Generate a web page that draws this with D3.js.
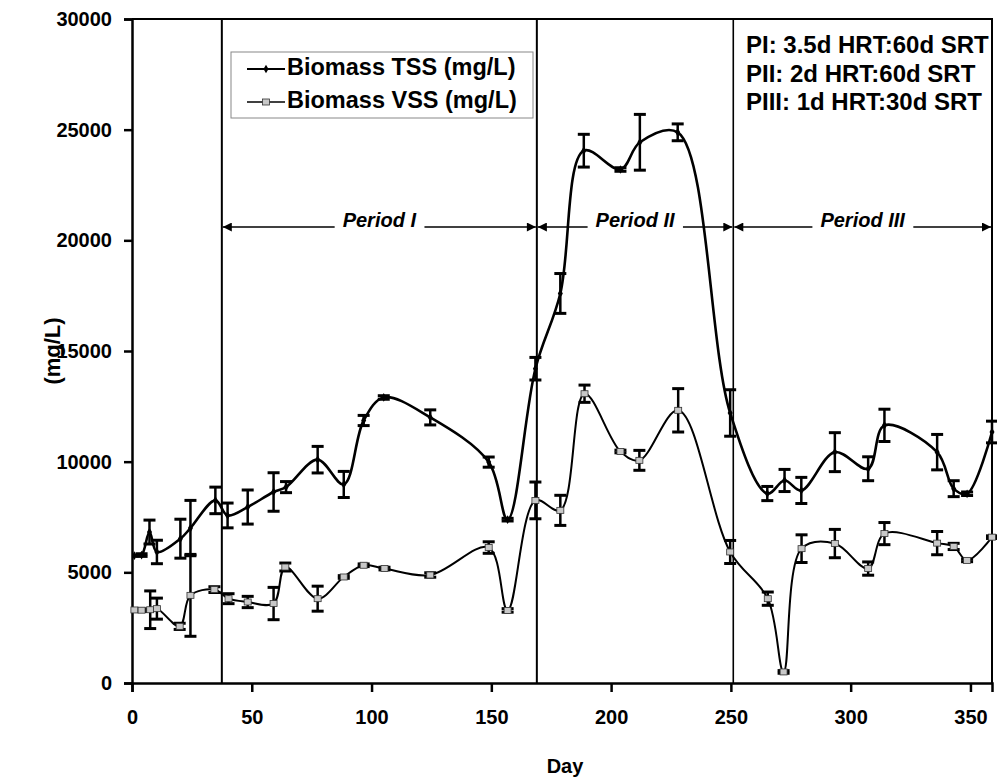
<!DOCTYPE html>
<html>
<head>
<meta charset="utf-8">
<script src="https://cdn.jsdelivr.net/npm/d3@7"></script>
<style>
  body { margin: 0; background: #fff; }
  svg { display: block; font-family: "Liberation Sans", Arial, sans-serif; }
</style>
</head>
<body>
<svg></svg>
<script>
// Data
const tssDay = [1, 4, 7.3, 10.4, 20.2, 24.4, 34.8, 39.9, 48.3, 59.1, 64.3, 77.5, 88.4, 96.7, 105.1, 124.5, 148.9, 156.8,
  168.4, 178.8, 188.6, 203.9, 212, 227.8, 249.7, 265.2, 272.4, 279.4, 293.4, 307.3, 314.1, 336.1, 343, 348.6, 359];
const tssVal = [5750, 5780, 6820, 5920, 6520, 7000, 8250, 7570, 7950, 8630, 8850, 10090, 8970, 11860, 12900, 12000, 9980, 7380,
  14200, 17600, 24050, 23200, 24430, 24880, 12200, 8560, 9150, 8700, 10430, 9680, 11640, 10430, 8780, 8550, 11340];
const tssErr = [0, 60, 540, 530, 880, 1250, 600, 560, 770, 870, 250, 600, 590, 230, 80, 340, 230, 60,
  510, 900, 740, 80, 1260, 380, 1050, 320, 500, 590, 880, 540, 730, 800, 360, 80, 490];

const vssDay = [1, 4, 7.6, 10.4, 19.9, 24.4, 34.4, 40.3, 48.3, 59.1, 64, 77.5, 88.4, 96.7, 105.4, 124.5, 148.9, 156.8,
  168.4, 178.8, 188.9, 203.9, 211.8, 228, 249.7, 265.4, 272, 279.5, 293.4, 307.3, 314.1, 336.1, 343, 348.6, 359];
const vssVal = [3300, 3290, 3310, 3360, 2560, 3960, 4220, 3810, 3660, 3590, 5240, 3810, 4790, 5320, 5170, 4880, 6120, 3280,
  8250, 7800, 13070, 10460, 10060, 12320, 5920, 3810, 500, 6070, 6300, 5170, 6750, 6320, 6170, 5540, 6590];
const vssErr = [0, 60, 850, 475, 140, 1850, 130, 225, 255, 730, 180, 565, 60, 60, 60, 100, 260, 80,
  830, 680, 390, 60, 450, 980, 520, 300, 60, 625, 640, 300, 500, 525, 140, 60, 60];

const xTicks = [0, 50, 100, 150, 200, 250, 300, 350];
const yTicks = [0, 5000, 10000, 15000, 20000, 25000, 30000];
const periodStart = [37.5, 169, 251];
const periodEnd = [169, 251, 359];
const periodNames = ["Period I", "Period II", "Period III"];
const seriesNames = ["Biomass TSS (mg/L)", "Biomass VSS (mg/L)"];
const noteLines = ["PI: 3.5d HRT:60d SRT", "PII: 2d HRT:60d SRT", "PIII: 1d HRT:30d SRT"];

// Layout
const W = 997, H = 782;
const plot = { l: 132, r: 992, t: 19, b: 683 };

const svg = d3.select("svg").attr("width", W).attr("height", H);

const x = d3.scaleLinear().domain([0, 359]).range([plot.l, plot.r]);
const y = d3.scaleLinear().domain([0, 30000]).range([plot.b, plot.t]);

// Frame (top / right)
svg.append("path")
  .attr("d", `M${plot.l},${plot.t}H${plot.r}V${plot.b}`)
  .attr("fill", "none").attr("stroke", "#000").attr("stroke-width", 2);

// Axes
const xAxis = svg.append("g")
  .attr("transform", `translate(0,${plot.b})`)
  .call(d3.axisBottom(x).tickValues(xTicks).tickSize(9).tickPadding(18).tickFormat(d3.format("d")));
const yAxis = svg.append("g")
  .attr("transform", `translate(${plot.l},0)`)
  .call(d3.axisLeft(y).tickValues(yTicks).tickSize(8).tickPadding(12).tickFormat(d3.format("d")));

[xAxis, yAxis].forEach(g => {
  g.select(".domain").attr("stroke-width", 2.5);
  g.selectAll(".tick line").attr("stroke-width", 2.5);
  g.selectAll(".tick text")
    .attr("font-size", 20).attr("font-weight", "bold").attr("fill", "#000")
    .attr("font-family", "'Liberation Sans', Arial, sans-serif");
});

// Axis titles
svg.append("text")
  .attr("x", 565).attr("y", 773)
  .attr("text-anchor", "middle")
  .attr("font-size", 20).attr("font-weight", "bold")
  .text("Day");
svg.append("text")
  .attr("transform", `translate(60,351) rotate(-90)`)
  .attr("text-anchor", "middle")
  .attr("font-size", 22).attr("font-weight", "bold")
  .text("(mg/L)");

// Period boundaries
svg.selectAll(".pline")
  .data(periodStart)
  .join("line")
    .attr("x1", d => x(d)).attr("x2", d => x(d))
    .attr("y1", plot.t).attr("y2", plot.b)
    .attr("stroke", "#000")
    .attr("stroke-width", (d, i) => i === 2 ? 1.6 : 2);

// Period arrows
const arrowY = 227;
const defs = svg.append("defs");
defs.append("marker")
  .attr("id", "ah")
  .attr("viewBox", "0 0 10 10")
  .attr("refX", 10).attr("refY", 5)
  .attr("markerWidth", 11).attr("markerHeight", 9)
  .attr("markerUnits", "userSpaceOnUse")
  .attr("orient", "auto-start-reverse")
  .append("path").attr("d", "M0,0L10,5L0,10Z").attr("fill", "#000");

periodNames.forEach((name, i) => {
  const x0 = x(periodStart[i]) + 1, x1 = Math.min(x(periodEnd[i]), plot.r) - 1;
  const cx = x((periodStart[i] + periodEnd[i]) / 2);
  svg.append("line")
    .attr("x1", x0).attr("x2", x1).attr("y1", arrowY).attr("y2", arrowY)
    .attr("stroke", "#000").attr("stroke-width", 1.5)
    .attr("marker-start", "url(#ah)").attr("marker-end", "url(#ah)");
  const t = svg.append("text")
    .attr("x", cx).attr("y", arrowY)
    .attr("text-anchor", "middle")
    .attr("font-size", 20).attr("font-weight", "bold").attr("font-style", "italic")
    .text(name);
  const bb = t.node().getBBox();
  svg.insert("rect", () => t.node())
    .attr("x", bb.x - 8).attr("y", arrowY - 3).attr("width", bb.width + 16).attr("height", 6)
    .attr("fill", "#fff");
});

// Series
const line = d3.line().curve(d3.curveCatmullRom.alpha(0.5));
const tssPts = tssDay.map((d, i) => [x(d), y(tssVal[i])]);
const vssPts = vssDay.map((d, i) => [x(d), y(vssVal[i])]);

function errorBars(days, vals, errs, cls) {
  const g = svg.append("g").attr("class", cls);
  days.forEach((d, i) => {
    if (!errs[i]) return;
    const px = x(d), y0 = y(vals[i] - errs[i]), y1 = y(vals[i] + errs[i]);
    g.append("line").attr("x1", px).attr("x2", px).attr("y1", y0).attr("y2", y1)
      .attr("stroke", "#000").attr("stroke-width", 2.5);
    [y0, y1].forEach(yy => g.append("line")
      .attr("x1", px - 6).attr("x2", px + 6).attr("y1", yy).attr("y2", yy)
      .attr("stroke", "#000").attr("stroke-width", 3));
  });
}

svg.append("path").attr("d", line(vssPts))
  .attr("fill", "none").attr("stroke", "#000").attr("stroke-width", 2);
svg.append("path").attr("d", line(tssPts))
  .attr("fill", "none").attr("stroke", "#000").attr("stroke-width", 2.6);

errorBars(tssDay, tssVal, tssErr, "tss-err");
errorBars(vssDay, vssVal, vssErr, "vss-err");

// Markers
svg.append("g").selectAll("path")
  .data(tssPts)
  .join("path")
    .attr("transform", d => `translate(${d[0]},${d[1]})`)
    .attr("d", d3.symbol(d3.symbolDiamond, 22))
    .attr("fill", "#000");
svg.append("g").selectAll("rect")
  .data(vssPts)
  .join("rect")
    .attr("x", d => d[0] - 3.5).attr("y", d => d[1] - 3)
    .attr("width", 7).attr("height", 6)
    .attr("fill", "#c8c8c8").attr("stroke", "#333").attr("stroke-width", 0.8);

// Legend
const lg = svg.append("g");
lg.append("rect")
  .attr("x", 231).attr("y", 52).attr("width", 302).attr("height", 66)
  .attr("fill", "#fff").attr("stroke", "#888").attr("stroke-width", 1);
seriesNames.forEach((name, i) => {
  const ly = 69 + i * 33;
  lg.append("line").attr("x1", 247).attr("x2", 285).attr("y1", ly).attr("y2", ly)
    .attr("stroke", "#000").attr("stroke-width", i === 0 ? 2 : 1.6);
  if (i === 0) {
    lg.append("path").attr("transform", `translate(266,${ly})`)
      .attr("d", d3.symbol(d3.symbolDiamond, 22)).attr("fill", "#000");
  } else {
    lg.append("rect").attr("x", 262.5).attr("y", ly - 3).attr("width", 7).attr("height", 6)
      .attr("fill", "#c8c8c8").attr("stroke", "#333").attr("stroke-width", 0.8);
  }
  lg.append("text")
    .attr("x", 287).attr("y", ly + 6)
    .attr("font-size", 23.5).attr("font-weight", "bold")
    .attr("fill", "#000")
    .text(name);
});

// Conditions note
svg.append("g").selectAll("text")
  .data(noteLines)
  .join("text")
    .attr("x", 746)
    .attr("y", (d, i) => 53 + i * 28.5)
    .attr("font-size", 24).attr("font-weight", "bold")
    .text(d => d);
</script>
</body>
</html>
